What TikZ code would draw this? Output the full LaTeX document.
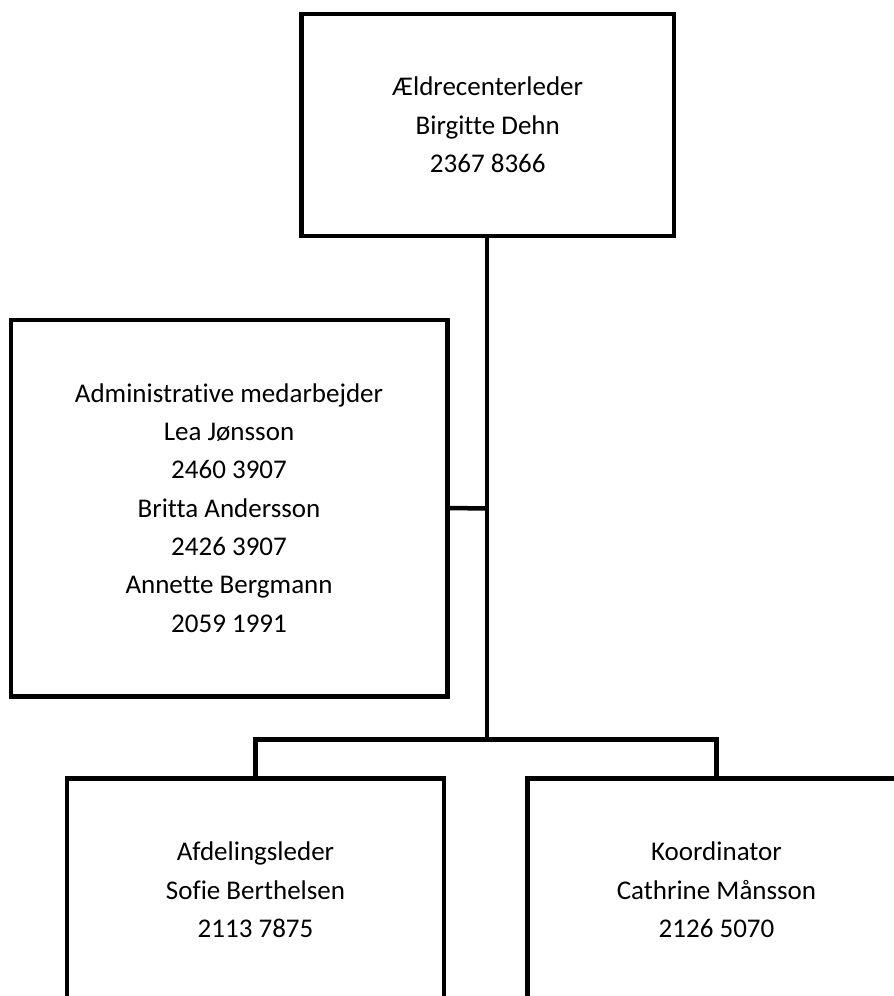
\documentclass[tikz,border=0pt]{standalone}
\usepackage{fontspec}
\setmainfont{Carlito}[Ligatures=NoCommon]
\usepackage{tikz}
\usetikzlibrary{positioning}

\begin{document}
\begin{tikzpicture}[x=1pt,y=-1pt,
        orgbox/.style={draw,line width=4.5pt,shape=rectangle,fill=white,align=center,
          font=\fontsize{27}{38.3}\selectfont,inner sep=0pt},
        orgline/.style={line width=4.5pt,line join=miter}]
        \useasboundingbox (0,0) rectangle (894,996);
        \clip (0,0) rectangle (894,996);

        % connectors first, boxes on top
        \coordinate (bus) at (487,739.5);
        \coordinate (mid) at (487,508.5);

        \node[orgbox,minimum width=372.5pt,minimum height=222pt]
        (leder) at (487.75,125) {Ældrecenterleder\\Birgitte Dehn\\2367 8366};
        \node[orgbox,minimum width=436.5pt,minimum height=376.5pt]
        (admin) at (229,508) {Administrative medarbejder\\Lea Jønsson\\2460 3907\\Britta Andersson\\2426 3907\\Annette Bergmann\\2059 1991};
        \node[orgbox,minimum width=377pt,minimum height=223pt]
        (afdeling) at (255.5,890) {Afdelingsleder\\Sofie Berthelsen\\2113 7875};
        \node[orgbox,minimum width=378pt,minimum height=223pt]
        (koord) at (716.5,890) {Koordinator\\Cathrine Månsson\\2126 5070};

        \draw[orgline] (leder.south -| bus) -- (bus);
        \draw[orgline] (admin.east) -- (mid);
        \draw[orgline] (afdeling.north) |- (bus) -| (koord.north);
\end{tikzpicture}
\end{document}
